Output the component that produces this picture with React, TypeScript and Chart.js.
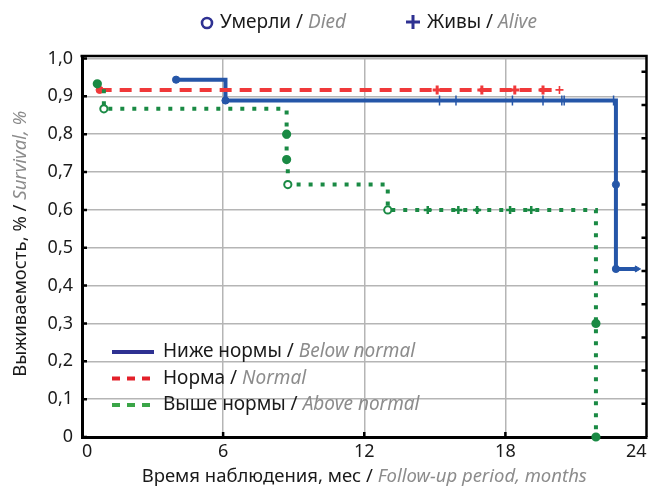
import React, { useEffect, useRef } from "react";
import { Chart, registerables } from "chart.js";

Chart.register(...registerables);

// ---- data ----
const xTickValues = [0, 6, 12, 18, 24];
const xTickLabels = ["0", "6", "12", "18", "24"];
const yTickValues = [0, 0.1, 0.2, 0.3, 0.4, 0.5, 0.6, 0.7, 0.8, 0.9, 1.0];
const yTickLabels = ["0", "0,1", "0,2", "0,3", "0,4", "0,5", "0,6", "0,7", "0,8", "0,9", "1,0"];

// Below normal (blue)
const belowTimes = [4.0, 6.1, 22.7, 22.7, 23.6];
const belowSurv = [0.944, 0.889, 0.667, 0.444, 0.444];
const belowCensTimes = [15.2, 15.9, 18.3, 19.6, 20.4, 20.5, 22.6];
const belowCensSurv = [0.889, 0.889, 0.889, 0.889, 0.889, 0.889, 0.889];

// Normal (red)
const normalTimes = [0.75, 20.3];
const normalSurv = [0.917, 0.917];
const normalCensTimes = [15.1, 17.0, 18.4, 19.6];
const normalCensSurv = [0.917, 0.917, 0.917, 0.917];

// Above normal (green)
const aboveTimes = [0.65, 0.93, 8.7, 8.7, 8.75, 13.0, 21.85, 21.85];
const aboveSurv = [0.933, 0.867, 0.8, 0.733, 0.667, 0.6, 0.3, 0.0];
const aboveHollow = [false, true, false, false, true, true, false, false];
const aboveCensTimes = [14.7, 16.0, 16.8, 18.2, 19.1];
const aboveCensSurv = [0.6, 0.6, 0.6, 0.6, 0.6];

const FONT = "'Noto Sans', 'DejaVu Sans', sans-serif";
const BLUE = "#2556a8";
const RED = "#f0393a";
const GREEN = "#1a8a44";
const NAVY = "#2e3192";
const GRAY_TXT = "#8c8c8c";
const BLACK_TXT = "#1a1a1a";

type Run = { text: string; italic?: boolean; color: string };

function drawRuns(ctx: CanvasRenderingContext2D, runs: Run[], x: number, y: number, size: number, align: "left" | "center") {
  const fontFor = (r: Run) => `${r.italic ? "italic " : ""}${size}px ${FONT}`;
  let total = 0;
  const widths = runs.map((r) => {
    ctx.font = fontFor(r);
    const w = ctx.measureText(r.text).width;
    total += w;
    return w;
  });
  let cx = align === "center" ? x - total / 2 : x;
  ctx.textBaseline = "middle";
  ctx.textAlign = "left";
  runs.forEach((r, i) => {
    ctx.font = fontFor(r);
    ctx.fillStyle = r.color;
    ctx.fillText(r.text, cx, y);
    cx += widths[i];
  });
}

const decorPlugin = {
  id: "decor",
  afterDatasetsDraw(chart: any) {
    const ctx: CanvasRenderingContext2D = chart.ctx;
    const { left, right, top, bottom } = chart.chartArea;
    const xs = chart.scales.x;
    const ys = chart.scales.y;
    ctx.save();
    // frame top & right
    ctx.strokeStyle = "#000";
    ctx.lineWidth = 2.5;
    ctx.beginPath();
    ctx.moveTo(left - 1.5, top - 2.5);
    ctx.lineTo(right, top - 2.5);
    ctx.lineTo(right, bottom);
    ctx.stroke();
    // inside ticks
    ctx.lineWidth = 2.5;
    ctx.beginPath();
    yTickValues.forEach((v) => {
      const py = ys.getPixelForValue(v);
      ctx.moveTo(left, py);
      ctx.lineTo(left + 5, py);
    });
    xTickValues.slice(1, -1).forEach((v) => {
      const px = xs.getPixelForValue(v);
      ctx.moveTo(px, bottom);
      ctx.lineTo(px, bottom - 5);
    });
    const h = bottom - top;
    for (let k = 1; k <= 11; k++) {
      const py = bottom - (k * h) / 11.4;
      ctx.moveTo(right, py);
      ctx.lineTo(right - 5, py);
    }
    ctx.stroke();
    ctx.restore();

    ctx.save();
    // top legend
    ctx.strokeStyle = NAVY;
    ctx.lineWidth = 2.6;
    ctx.beginPath();
    ctx.arc(207, 23, 5, 0, Math.PI * 2);
    ctx.stroke();
    drawRuns(ctx, [
      { text: "Умерли / ", color: BLACK_TXT },
      { text: "Died", italic: true, color: GRAY_TXT },
    ], 220, 23, 19, "left");
    ctx.strokeStyle = NAVY;
    ctx.lineWidth = 3;
    ctx.beginPath();
    ctx.moveTo(406, 22);
    ctx.lineTo(420, 22);
    ctx.moveTo(413, 15);
    ctx.lineTo(413, 29);
    ctx.stroke();
    drawRuns(ctx, [
      { text: "Живы / ", color: BLACK_TXT },
      { text: "Alive", italic: true, color: GRAY_TXT },
    ], 427, 23, 19, "left");

    // inner legend
    const rows: { color: string; dash: number[]; ru: string; en: string }[] = [
      { color: NAVY, dash: [], ru: "Ниже нормы / ", en: "Below normal" },
      { color: "#e3202a", dash: [8, 7], ru: "Норма / ", en: "Normal" },
      { color: "#3aa547", dash: [8, 7], ru: "Выше нормы / ", en: "Above normal" },
    ];
    rows.forEach((r, i) => {
      const y = 352 + i * 26.5;
      ctx.strokeStyle = r.color;
      ctx.lineWidth = 4;
      ctx.setLineDash(r.dash);
      ctx.beginPath();
      ctx.moveTo(112, y);
      ctx.lineTo(154, y);
      ctx.stroke();
      ctx.setLineDash([]);
      drawRuns(ctx, [
        { text: r.ru, color: BLACK_TXT },
        { text: r.en, italic: true, color: GRAY_TXT },
      ], 163, y, 19, "left");
    });

    // axis titles
    drawRuns(ctx, [
      { text: "Время наблюдения, мес / ", color: BLACK_TXT },
      { text: "Follow-up period, months", italic: true, color: GRAY_TXT },
    ], (left + right) / 2, 477, 18.5, "center");
    ctx.translate(21, (top + bottom) / 2 - 4);
    ctx.rotate(-Math.PI / 2);
    drawRuns(ctx, [
      { text: "Выживаемость, % / ", color: BLACK_TXT },
      { text: "Survival, %", italic: true, color: GRAY_TXT },
    ], 0, 0, 18.5, "center");
    ctx.restore();
  },
};

export default function App() {
  const ref = useRef<HTMLCanvasElement | null>(null);
  useEffect(() => {
    document.body.style.margin = "0";
    const canvas = ref.current;
    if (!canvas) return;

    const pts = (t: number[], s: number[]) => t.map((x, i) => ({ x, y: s[i] }));

    const chart = new Chart(canvas, {
      type: "scatter",
      data: {
        datasets: [
          {
            label: "Выше нормы / Above normal",
            data: pts(aboveTimes, aboveSurv),
            showLine: true,
            stepped: true,
            borderColor: GREEN,
            borderWidth: 4,
            borderDash: [4, 8],
            borderCapStyle: "butt",
            pointRadius: 3.6,
            pointBorderWidth: 2,
            pointBorderColor: GREEN,
            pointBackgroundColor: aboveHollow.map((h) => (h ? "#ffffff" : GREEN)),
            clip: false,
          } as any,
          {
            label: "above censored",
            data: pts(aboveCensTimes, aboveCensSurv),
            pointStyle: "cross",
            pointRadius: 4,
            pointBorderWidth: 2.5,
            pointBorderColor: GREEN,
            clip: false,
          } as any,
          {
            label: "Норма / Normal",
            data: pts(normalTimes, normalSurv),
            showLine: true,
            stepped: true,
            borderColor: RED,
            borderWidth: 4,
            borderDash: [12, 8],
            borderCapStyle: "butt",
            pointStyle: ["circle", "cross"],
            pointRadius: [3.6, 4],
            pointBorderWidth: [1, 1.6],
            pointBorderColor: RED,
            pointBackgroundColor: RED,
            clip: false,
          } as any,
          {
            label: "normal censored",
            data: pts(normalCensTimes, normalCensSurv),
            pointStyle: "cross",
            pointRadius: 4.5,
            pointBorderWidth: 3,
            pointBorderColor: RED,
            clip: false,
          } as any,
          {
            label: "Ниже нормы / Below normal",
            data: pts(belowTimes, belowSurv),
            showLine: true,
            stepped: true,
            borderColor: BLUE,
            borderWidth: 4,
            pointStyle: ["circle", "circle", "circle", "circle", "triangle"],
            pointRotation: [0, 0, 0, 0, 90],
            pointRadius: [3.6, 3.6, 3.6, 3.6, 3.5],
            pointBorderWidth: 1,
            pointBorderColor: BLUE,
            pointBackgroundColor: BLUE,
            clip: false,
          } as any,
          {
            label: "below censored",
            data: pts(belowCensTimes, belowCensSurv),
            pointStyle: "line",
            pointRotation: 90,
            pointRadius: 5,
            pointBorderWidth: 1.5,
            pointBorderColor: BLUE,
            clip: false,
          } as any,
        ],
      },
      options: {
        animation: false,
        responsive: false,
        events: [],
        layout: { padding: { left: 0, right: 0, top: 58.5, bottom: 0 } },
        plugins: {
          legend: { display: false },
          tooltip: { enabled: false },
          title: { display: false },
        },
        scales: {
          x: {
            type: "linear",
            min: 0,
            max: 24,
            afterBuildTicks: (s: any) => {
              s.ticks = xTickValues.map((v) => ({ value: v }));
            },
            afterFit: (s: any) => {
              s.height = 53;
              s.paddingLeft = 0;
              s.paddingRight = 0;
            },
            ticks: {
              autoSkip: false,
              maxRotation: 0,
              align: "inner",
              padding: 4,
              color: BLACK_TXT,
              font: { family: FONT, size: 18 },
              callback: (_v: any, i: number) => xTickLabels[i],
            },
            grid: {
              drawTicks: false,
              color: (c: any) =>
                c.tick && (c.tick.value === 0 || c.tick.value === 24) ? "rgba(0,0,0,0)" : "#b5b5b5",
              lineWidth: 1.5,
            },
            border: { color: "#000", width: 3 },
          },
          y: {
            type: "linear",
            min: 0,
            max: 1,
            afterBuildTicks: (s: any) => {
              s.ticks = yTickValues.map((v) => ({ value: v }));
            },
            afterFit: (s: any) => {
              s.width = 82;
              s.paddingTop = 0;
              s.paddingBottom = 0;
            },
            ticks: {
              autoSkip: false,
              padding: 9,
              color: BLACK_TXT,
              font: { family: FONT, size: 18 },
              callback: (_v: any, i: number) => yTickLabels[i],
            },
            grid: {
              drawTicks: false,
              color: (c: any) => (c.tick && c.tick.value === 0 ? "rgba(0,0,0,0)" : "#b5b5b5"),
              lineWidth: 1.5,
            },
            border: { color: "#000", width: 3 },
          },
        },
      } as any,
      plugins: [decorPlugin],
    });
    return () => chart.destroy();
  }, []);

  return (
    <div style={{ width: 654, height: 490, position: "relative", background: "#fff" }}>
      <canvas ref={ref} width={654} height={490} style={{ display: "block" }} />
    </div>
  );
}
